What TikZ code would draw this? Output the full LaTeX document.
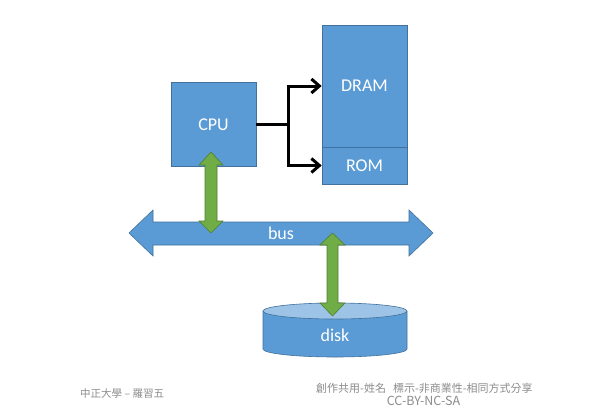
\documentclass[tikz,border=0pt]{standalone}
\usepackage{fontspec}
\setmainfont{Carlito}
\newfontfamily\cjkfont{Noto Sans CJK TC}
\usetikzlibrary{arrows.meta}
\definecolor{boxblue}{HTML}{5B9BD5}
\definecolor{boxedge}{HTML}{41719C}
\definecolor{topblue}{HTML}{9DC3E6}
\definecolor{arrgreen}{HTML}{70AD47}
\definecolor{greenedge}{HTML}{507E32}
\definecolor{footgray}{HTML}{8C8C8C}
\tikzset{
  blockbox/.style={draw=boxedge, line width=0.6pt, fill=boxblue, text=white, inner sep=0pt,
    font=\fontsize{18}{20}\selectfont},
  busshape/.style={draw=boxedge, line width=0.6pt, fill=boxblue},
  greenarrow/.style={draw=greenedge, line width=0.6pt, fill=arrgreen},
  wire/.style={draw=black, line width=3pt, line join=miter, -{Straight Barb[length=8pt,width=14pt,line width=3pt]}},
  labeltext/.style={text=white, inner sep=0pt, font=\fontsize{18}{20}\selectfont},
  foottext/.style={text=footgray, inner sep=0pt, font=\cjkfont\fontsize{11}{13}\selectfont}
}
\begin{document}
\begin{tikzpicture}[x=1pt,y=-1pt]
\useasboundingbox[fill=white] (0,0) rectangle (610,410);
% boxes
\node[blockbox, minimum width=85pt, minimum height=84pt] (cpu) at (213.5,124.5) {CPU};
\node[blockbox, minimum width=85pt, minimum height=122pt] (dram) at (364.5,86) {DRAM};
\node[blockbox, minimum width=85pt, minimum height=37pt] (rom) at (364.5,165.5) {ROM};
% black connectors
\coordinate (junc) at (288,124.5);
\draw[wire, -] (cpu.east) -- (junc);
\draw[wire] (junc) |- (dram.west);
\draw[wire] (junc) |- (rom.west);
% bus
\draw[busshape] (129,233) -- (153,210) -- (153,222) -- (409,222) -- (409,210) -- (433,233)
  -- (409,256) -- (409,245) -- (153,245) -- (153,256) -- cycle;
\node[labeltext] (bus) at (281,233) {bus};
% disk
\fill[boxblue] (263,311) -- (263,349) arc[start angle=180, end angle=360, x radius=72pt, y radius=8pt]
  -- (407,311) -- cycle;
\draw[boxedge, line width=0.6pt] (263,311) -- (263,349) arc[start angle=180, end angle=360, x radius=72pt, y radius=8pt] -- (407,311);
\draw[boxedge, fill=topblue, line width=0.6pt] (335,311) ellipse[x radius=72pt, y radius=8pt];
\node[labeltext] (disk) at (335,335) {disk};
% green double arrows
\draw[greenarrow] (211,152) -- (223,165) -- (217,165) -- (217,221) -- (223,221) -- (211,233)
  -- (199,221) -- (205,221) -- (205,165) -- (199,165) -- cycle;
\draw[greenarrow] (332.5,233) -- (345,245) -- (338,245) -- (338,303) -- (345,303) -- (332.5,316)
  -- (320,303) -- (327,303) -- (327,245) -- (320,245) -- cycle;
% footer
\node[foottext, anchor=west, font=\cjkfont\fontsize{10.5}{12}\selectfont] (authorL) at (80,394) {中正大學 – 羅習五};
\node[foottext, anchor=west] (licL) at (316,388) {創作共用-姓名\hspace{7pt}標示-非商業性-相同方式分享};
\node[foottext, font=\cjkfont\fontsize{12.5}{14}\selectfont] (licC) at (423.5,400.5) {CC-BY-NC-SA};
\end{tikzpicture}
\end{document}
